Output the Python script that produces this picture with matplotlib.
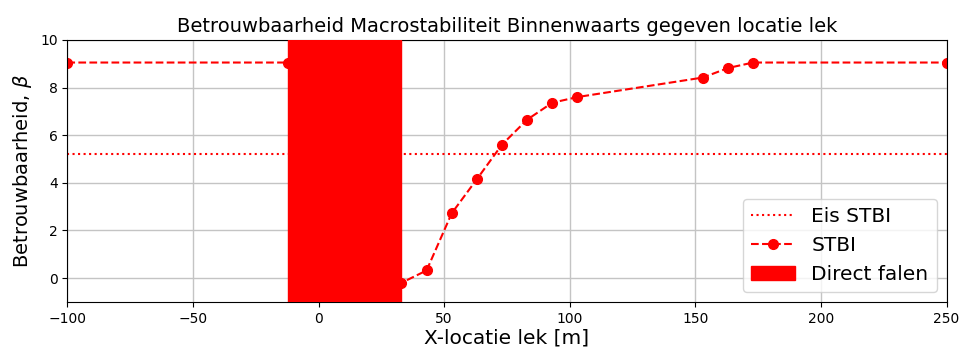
import matplotlib.pyplot as plt
import numpy as np

# STBI reliability per leak location
x_lek = [-100, -12, 33, 43, 53, 63, 73, 83, 93, 103, 153, 163, 173, 250]
beta_stbi = [9.05, 9.05, -0.2, 0.32, 2.72, 4.15, 5.6, 6.65, 7.36, 7.6, 8.42, 8.82, 9.05, 9.05]

eis_stbi = 5.2
direct_falen = [-12, 33]

fig, ax = plt.subplots(figsize=(9.62, 3.47), dpi=100)

ax.axhline(eis_stbi, color='red', linestyle=':', linewidth=1.5, label='Eis STBI')
ax.plot(x_lek, beta_stbi, color='red', linestyle='--', marker='o', markersize=7,
        linewidth=1.5, label='STBI')
ax.axvspan(direct_falen[0], direct_falen[1], color='red', zorder=3, label='Direct falen')

ax.set_xlim(-100, 250)
ax.set_ylim(-1, 10)
ax.set_yticks([0, 2, 4, 6, 8, 10])
ax.grid(True, color='#c4c4c4', linewidth=1)
ax.set_axisbelow(True)

ax.set_title('Betrouwbaarheid Macrostabiliteit Binnenwaarts gegeven locatie lek', fontsize=14)
ax.set_xlabel('X-locatie lek [m]', fontsize=14.5, labelpad=2)
ax.set_ylabel(r'Betrouwbaarheid, $\beta$', fontsize=14)
ax.tick_params(labelsize=10)
ax.legend(loc='lower right', fontsize=14.5, handlelength=2.2)

fig.subplots_adjust(left=0.07, right=0.984, top=0.885, bottom=0.13)
fig.savefig('out.png', dpi=100)
